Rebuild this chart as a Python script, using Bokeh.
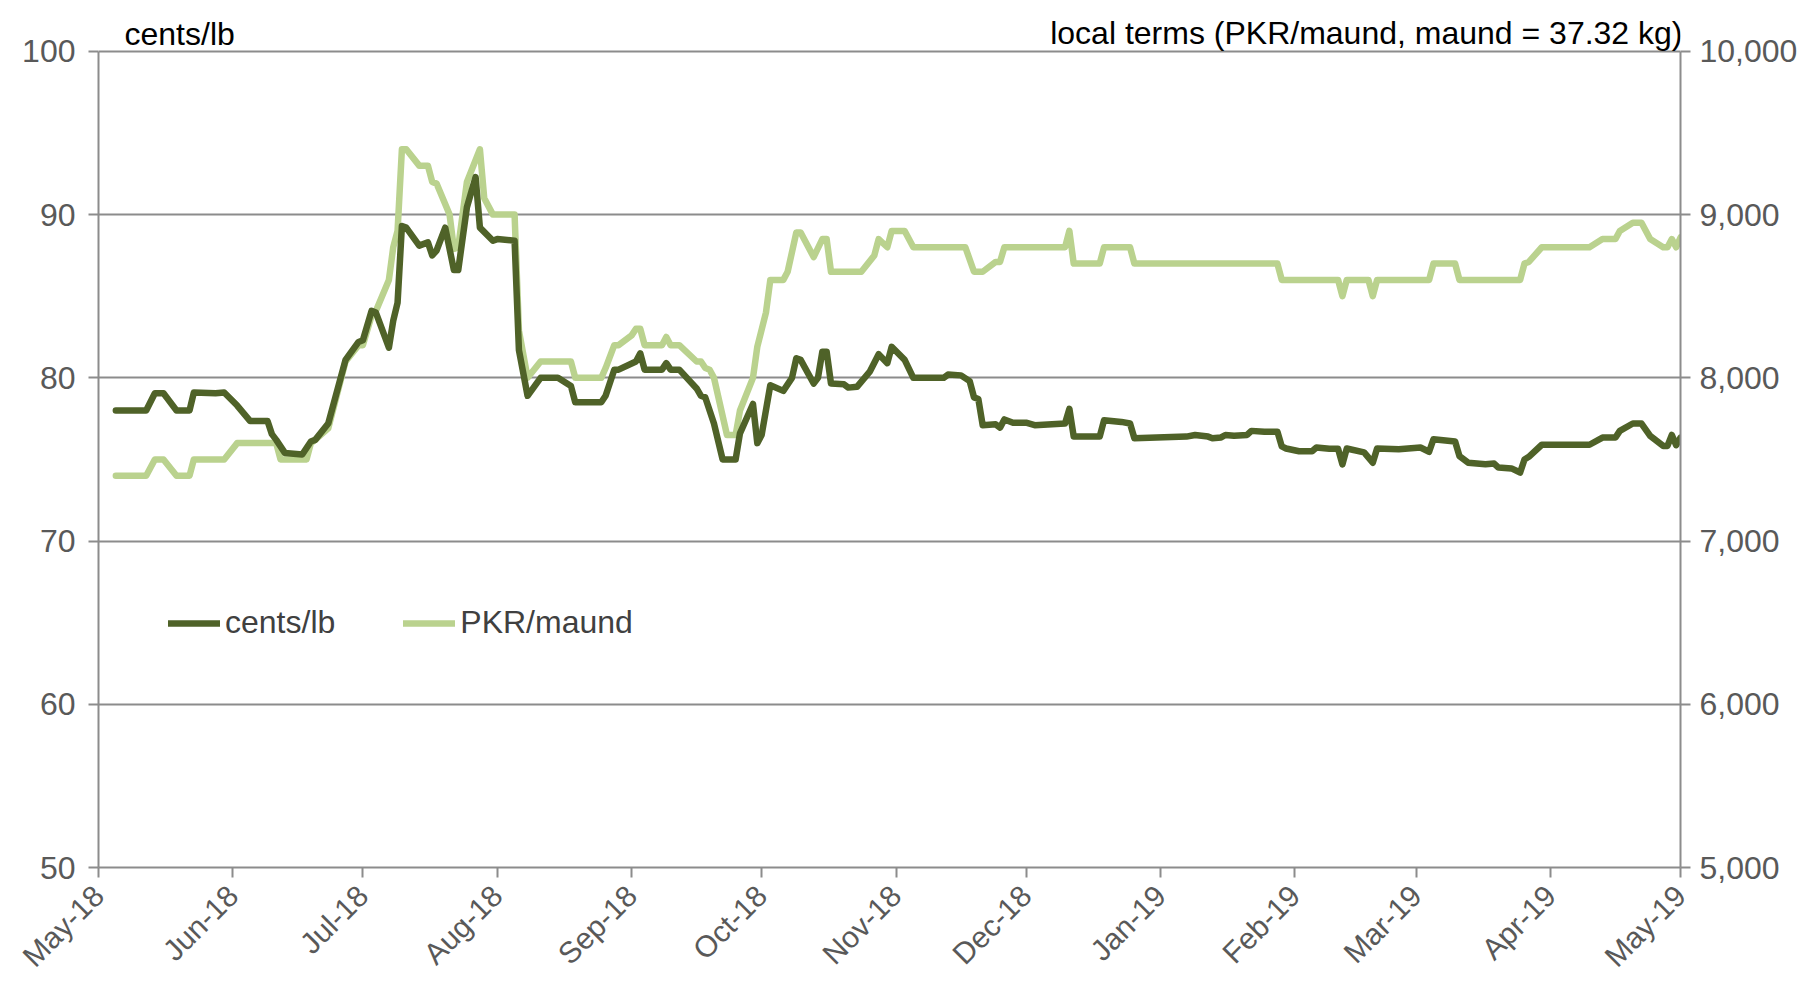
import pandas as pd
from math import pi
from bokeh.plotting import figure
from bokeh.models import (Range1d, LinearAxis, FixedTicker, DatetimeTickFormatter,
                          NumeralTickFormatter, Label, Legend, LegendItem, ColumnDataSource)
from bokeh.embed import file_html
from bokeh.resources import INLINE

# ---------------- data ----------------
cents_dates = [
    "2018-05-05", "2018-05-12", "2018-05-14", "2018-05-16", "2018-05-19", "2018-05-22", "2018-05-23",
    "2018-05-28", "2018-05-30", "2018-06-02", "2018-06-05", "2018-06-09", "2018-06-10", "2018-06-11",
    "2018-06-13", "2018-06-17", "2018-06-19", "2018-06-20", "2018-06-23", "2018-06-27", "2018-06-30",
    "2018-07-01", "2018-07-03", "2018-07-04", "2018-07-07", "2018-07-08", "2018-07-09", "2018-07-10",
    "2018-07-11", "2018-07-14", "2018-07-16", "2018-07-17", "2018-07-18", "2018-07-20", "2018-07-22",
    "2018-07-23", "2018-07-25", "2018-07-27", "2018-07-28", "2018-07-31", "2018-08-01", "2018-08-05",
    "2018-08-06", "2018-08-08", "2018-08-11", "2018-08-15", "2018-08-18", "2018-08-19", "2018-08-25",
    "2018-08-26", "2018-08-28", "2018-08-29", "2018-09-02", "2018-09-03", "2018-09-04", "2018-09-08",
    "2018-09-09", "2018-09-10", "2018-09-12", "2018-09-16", "2018-09-17", "2018-09-18", "2018-09-20",
    "2018-09-22", "2018-09-25", "2018-09-26", "2018-09-29", "2018-09-30", "2018-10-01", "2018-10-03",
    "2018-10-06", "2018-10-08", "2018-10-09", "2018-10-10", "2018-10-13", "2018-10-14", "2018-10-15",
    "2018-10-16", "2018-10-17", "2018-10-20", "2018-10-21", "2018-10-23", "2018-10-26", "2018-10-28",
    "2018-10-30", "2018-10-31", "2018-11-03", "2018-11-05", "2018-11-12", "2018-11-13", "2018-11-16",
    "2018-11-18", "2018-11-19", "2018-11-20", "2018-11-21", "2018-11-24", "2018-11-25", "2018-11-26",
    "2018-11-28", "2018-12-01", "2018-12-03", "2018-12-10", "2018-12-11", "2018-12-12", "2018-12-18",
    "2018-12-19", "2018-12-23", "2018-12-25", "2018-12-26", "2019-01-07", "2019-01-09", "2019-01-12",
    "2019-01-13", "2019-01-15", "2019-01-16", "2019-01-18", "2019-01-21", "2019-01-22", "2019-01-25",
    "2019-01-28", "2019-01-29", "2019-01-30", "2019-02-02", "2019-02-05", "2019-02-06", "2019-02-09",
    "2019-02-11", "2019-02-12", "2019-02-13", "2019-02-17", "2019-02-19", "2019-02-20", "2019-02-25",
    "2019-03-02", "2019-03-04", "2019-03-05", "2019-03-10", "2019-03-11", "2019-03-13", "2019-03-17",
    "2019-03-19", "2019-03-20", "2019-03-23", "2019-03-25", "2019-03-26", "2019-03-27", "2019-03-30",
    "2019-04-10", "2019-04-13", "2019-04-16", "2019-04-17", "2019-04-20", "2019-04-22", "2019-04-24",
    "2019-04-27", "2019-04-28", "2019-04-29", "2019-04-30", "2019-05-01",
]
cents_values = [
    78.0, 78.0, 79.05, 79.05, 78.0, 78.0, 79.1,
    79.05, 79.1, 78.3, 77.35, 77.35, 76.55, 76.2,
    75.4, 75.3, 76.1, 76.2, 77.2, 81.1, 82.2,
    82.3, 84.1, 84.0, 81.85, 83.5, 84.6, 89.3,
    89.2, 88.1, 88.3, 87.5, 87.8, 89.2, 86.6,
    86.6, 90.45, 92.3, 89.2, 88.4, 88.5, 88.4,
    81.7, 78.9, 80.0, 80.0, 79.5, 78.5, 78.5,
    78.9, 80.5, 80.5, 81.0, 81.5, 80.5, 80.5,
    80.9, 80.5, 80.5, 79.35, 78.9, 78.8, 77.2,
    75.0, 75.0, 76.6, 78.4, 76.0, 76.5, 79.55,
    79.2, 80.0, 81.2, 81.1, 79.65, 80.0, 81.6,
    81.6, 79.65, 79.6, 79.4, 79.45, 80.4, 81.45,
    80.9, 81.9, 81.1, 80.0, 80.0, 80.2, 80.15,
    79.8, 78.8, 78.7, 77.1, 77.15, 76.95, 77.45,
    77.25, 77.25, 77.1, 77.2, 78.1, 76.4, 76.4,
    77.4, 77.3, 77.2, 76.3, 76.4, 76.5, 76.4,
    76.3, 76.35, 76.5, 76.45, 76.5, 76.75, 76.7,
    76.7, 75.8, 75.67, 75.5, 75.5, 75.73, 75.65,
    75.65, 74.7, 75.67, 75.43, 74.8, 75.67, 75.63,
    75.73, 75.47, 76.24, 76.1, 75.2, 74.8, 74.7,
    74.75, 74.5, 74.45, 74.2, 75.0, 75.16, 75.9,
    75.9, 76.34, 76.34, 76.75, 77.2, 77.2, 76.44,
    75.83, 75.83, 76.5, 75.87, 76.34,
]

pkr_dates = [
    "2018-05-05", "2018-05-12", "2018-05-14", "2018-05-16", "2018-05-19", "2018-05-22", "2018-05-23",
    "2018-05-30", "2018-06-02", "2018-06-11", "2018-06-12", "2018-06-18", "2018-06-19", "2018-06-20",
    "2018-06-23", "2018-06-27", "2018-06-30", "2018-07-01", "2018-07-03", "2018-07-04", "2018-07-07",
    "2018-07-08", "2018-07-09", "2018-07-10", "2018-07-11", "2018-07-14", "2018-07-16", "2018-07-17",
    "2018-07-18", "2018-07-21", "2018-07-22", "2018-07-23", "2018-07-25", "2018-07-28", "2018-07-29",
    "2018-07-31", "2018-08-05", "2018-08-06", "2018-08-08", "2018-08-11", "2018-08-18", "2018-08-19",
    "2018-08-25", "2018-08-26", "2018-08-28", "2018-08-29", "2018-09-01", "2018-09-02", "2018-09-03",
    "2018-09-04", "2018-09-08", "2018-09-09", "2018-09-10", "2018-09-12", "2018-09-16", "2018-09-17",
    "2018-09-18", "2018-09-19", "2018-09-20", "2018-09-23", "2018-09-25", "2018-09-26", "2018-09-29",
    "2018-09-30", "2018-10-02", "2018-10-03", "2018-10-06", "2018-10-07", "2018-10-09", "2018-10-10",
    "2018-10-13", "2018-10-15", "2018-10-16", "2018-10-17", "2018-10-24", "2018-10-27", "2018-10-28",
    "2018-10-30", "2018-10-31", "2018-11-03", "2018-11-05", "2018-11-17", "2018-11-19", "2018-11-21",
    "2018-11-24", "2018-11-25", "2018-11-26", "2018-12-10", "2018-12-11", "2018-12-12", "2018-12-18",
    "2018-12-19", "2018-12-25", "2018-12-26", "2019-01-28", "2019-01-29", "2019-02-11", "2019-02-12",
    "2019-02-13", "2019-02-18", "2019-02-19", "2019-02-20", "2019-03-04", "2019-03-05", "2019-03-10",
    "2019-03-11", "2019-03-25", "2019-03-26", "2019-03-27", "2019-03-30", "2019-04-10", "2019-04-13",
    "2019-04-16", "2019-04-17", "2019-04-20", "2019-04-22", "2019-04-24", "2019-04-27", "2019-04-28",
    "2019-04-29", "2019-04-30", "2019-05-01",
]
pkr_values = [
    7400, 7400, 7500, 7500, 7400, 7400, 7500,
    7500, 7600, 7600, 7500, 7500, 7600, 7620,
    7690, 8100, 8200, 8200, 8380, 8410, 8600,
    8800, 8900, 9400, 9400, 9300, 9300, 9200,
    9190, 9000, 8790, 8800, 9200, 9400, 9100,
    9000, 9000, 8290, 8000, 8100, 8100, 8000,
    8000, 8060, 8200, 8200, 8260, 8300, 8300,
    8200, 8200, 8250, 8200, 8200, 8100, 8100,
    8060, 8050, 8000, 7650, 7650, 7800, 8000,
    8190, 8400, 8600, 8600, 8650, 8890, 8890,
    8740, 8850, 8850, 8650, 8650, 8750, 8850,
    8800, 8900, 8900, 8800, 8800, 8650, 8650,
    8710, 8710, 8800, 8800, 8900, 8700, 8700,
    8800, 8800, 8700, 8700, 8600, 8600, 8500,
    8600, 8600, 8500, 8600, 8600, 8700, 8700,
    8600, 8600, 8700, 8710, 8800, 8800, 8850,
    8850, 8900, 8950, 8950, 8850, 8800, 8800,
    8850, 8800, 8860,
]

month_ticks = ["2018-05-01", "2018-06-01", "2018-07-01", "2018-08-01", "2018-09-01", "2018-10-01",
               "2018-11-01", "2018-12-01", "2019-01-01", "2019-02-01", "2019-03-01", "2019-04-01",
               "2019-05-01"]
cents_ticks = [50, 60, 70, 80, 90, 100]
pkr_ticks = [5000, 6000, 7000, 8000, 9000, 10000]

series_names = ["cents/lb", "PKR/maund"]
left_title = "cents/lb"
right_title = "local terms (PKR/maund, maund = 37.32 kg)"

# ---------------- layout / style ----------------
DARK = "#4F6228"
LIGHT = "#BAD28E"
GRID = "#8C8C8C"
TICK_TXT = "#595959"
FONT = "Liberation Sans"

W, H = 1810, 987
LEFT, RIGHT, BOTTOM = 98, 130, 118
AXIS_TOP_PX = 51              # pixel row of the top (100) gridline
frame_h = H - BOTTOM          # frame starts at the top of the canvas
axis_h = frame_h - AXIS_TOP_PX
c_lo, c_hi = cents_ticks[0], cents_ticks[-1]
p_lo, p_hi = pkr_ticks[0], pkr_ticks[-1]
c_per_px = (c_hi - c_lo) / axis_h
p_per_px = (p_hi - p_lo) / axis_h

x_start = pd.Timestamp(month_ticks[0])
x_end = pd.Timestamp(month_ticks[-1])

p = figure(width=W, height=H, output_backend="svg", toolbar_location=None,
           x_axis_type="datetime",
           x_range=Range1d(x_start, x_end),
           y_range=Range1d(c_lo, c_hi + AXIS_TOP_PX * c_per_px),
           min_border_left=LEFT, min_border_right=RIGHT, min_border_top=0,
           min_border_bottom=BOTTOM)
p.extra_y_ranges = {"pkr": Range1d(p_lo, p_hi + AXIS_TOP_PX * p_per_px)}
p.outline_line_color = None
p.background_fill_color = "white"
p.border_fill_color = "white"

src_c = ColumnDataSource(dict(x=pd.to_datetime(cents_dates), y=cents_values))
src_p = ColumnDataSource(dict(x=pd.to_datetime(pkr_dates), y=pkr_values))

r_light = p.line("x", "y", source=src_p, y_range_name="pkr", line_color=LIGHT, line_width=6.5,
                 line_join="round", line_cap="round")
r_dark = p.line("x", "y", source=src_c, line_color=DARK, line_width=6.5,
                line_join="round", line_cap="round")

# grid
p.xgrid.visible = False
p.ygrid.ticker = FixedTicker(ticks=cents_ticks)
p.ygrid.grid_line_color = GRID
p.ygrid.grid_line_width = 2

def style_axis(ax, size):
    ax.axis_line_color = GRID
    ax.axis_line_width = 2
    ax.major_tick_line_color = GRID
    ax.major_tick_line_width = 2
    ax.major_tick_out = 10
    ax.major_tick_in = 0
    ax.minor_tick_line_color = None
    ax.major_label_text_font = FONT
    ax.major_label_text_font_size = size
    ax.major_label_text_color = TICK_TXT

# left axis
yax = p.yaxis[0]
yax.ticker = FixedTicker(ticks=cents_ticks)
yax.bounds = (c_lo, c_hi)
style_axis(yax, "32px")
yax.major_label_standoff = 13

# right axis
rax = LinearAxis(y_range_name="pkr", ticker=FixedTicker(ticks=pkr_ticks),
                 formatter=NumeralTickFormatter(format="0,0"), bounds=(p_lo, p_hi))
style_axis(rax, "32px")
rax.major_label_standoff = 9
p.add_layout(rax, "right")

# bottom axis
xax = p.xaxis[0]
xax.ticker = FixedTicker(ticks=[pd.Timestamp(t).value / 1e6 for t in month_ticks])
xax.formatter = DatetimeTickFormatter(months="%b-%y", days="%b-%y", years="%b-%y")
style_axis(xax, "30px")
xax.major_label_orientation = pi / 4
xax.major_label_standoff = 13

# titles just above the top gridline
p.add_layout(Label(x=x_start, y=c_hi + 17 * c_per_px, x_offset=26, text=left_title,
                   text_font=FONT, text_font_size="32px", text_color="black",
                   text_baseline="alphabetic", text_align="left"))
p.add_layout(Label(x=x_end, y=c_hi + 18 * c_per_px, x_offset=2, text=right_title,
                   text_font=FONT, text_font_size="32px", text_color="black",
                   text_baseline="alphabetic", text_align="right"))

# legend
legend = Legend(items=[LegendItem(label=series_names[0], renderers=[r_dark]),
                       LegendItem(label=series_names[1], renderers=[r_light])],
                orientation="horizontal", location=(70, 226))
legend.label_text_font = FONT
legend.label_text_font_size = "32px"
legend.label_text_color = "#404040"
legend.glyph_width = 52
legend.glyph_height = 30
legend.label_standoff = 5
legend.spacing = 68
legend.padding = 0
legend.margin = 0
legend.border_line_color = None
legend.background_fill_alpha = 0
p.add_layout(legend)

open("out.html", "w").write(file_html(p, INLINE))
